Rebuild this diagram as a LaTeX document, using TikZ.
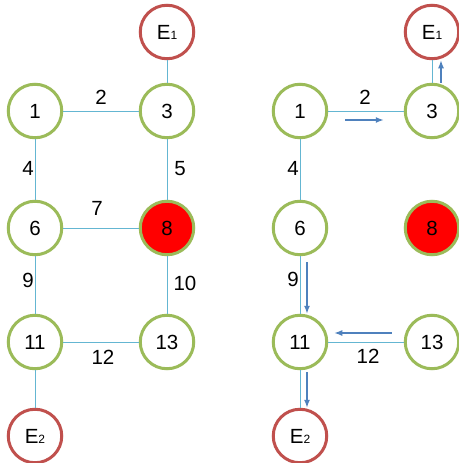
\documentclass[tikz,border=0pt]{standalone}
\usepackage{fontspec}
\setmainfont{Liberation Sans}
\usetikzlibrary{arrows.meta}
\definecolor{ringgreen}{RGB}{155,187,89}
\definecolor{ringred}{RGB}{192,80,77}
\definecolor{linkblue}{RGB}{100,182,210}
\definecolor{flowblue}{RGB}{79,129,189}
\newcommand{\Esub}[1]{E{\fontsize{12}{12}\selectfont #1}}
\tikzset{
  junction/.style={circle, draw=ringgreen, line width=3pt, fill=white,
    minimum size=53.5pt, inner sep=0pt, font=\fontsize{20.5}{24}\selectfont},
  hot/.style={junction, fill=red},
  exitnode/.style={junction, draw=ringred},
  link/.style={draw=linkblue, line width=1pt},
  flow/.style={draw=flowblue, line width=1.4pt, -{Latex[length=8pt,width=6pt]}},
  num/.style={font=\fontsize{20.5}{24}\selectfont, inner sep=0pt}
}
\begin{document}
\begin{tikzpicture}[x=1pt,y=-1pt]
\useasboundingbox (0,0) rectangle (458,463);

% ---- left network ----
\node[exitnode] (LE1) at (167,32) {\Esub{1}};
\node[junction] (L1) at (35,111) {1};
\node[junction] (L3) at (167,111) {3};
\node[junction] (L6) at (35,228) {6};
\node[hot] (L8) at (167,228) {8};
\node[junction] (L11) at (35,342) {11};
\node[junction] (L13) at (167,342) {13};
\node[exitnode] (LE2) at (35,436) {\Esub{2}};

\draw[link] (L1) -- (L3);
\draw[link] (L3) -- (LE1);
\draw[link] (L1) -- (L6);
\draw[link] (L3) -- (L8);
\draw[link] (L6) -- (L8);
\draw[link] (L6) -- (L11);
\draw[link] (L8) -- (L13);
\draw[link] (L11) -- (L13);
\draw[link] (L11) -- (LE2);

\node[num] (l2) at (101,97) {2};
\node[num] (l4) at (28,168) {4};
\node[num] (l5) at (180,169) {5};
\node[num] (l7) at (97,208) {7};
\node[num] (l9) at (28,280) {9};
\node[num] (l10) at (185,283) {10};
\node[num] (l12) at (103,357) {12};

% ---- right network ----
\node[exitnode] (RE1) at (432,32) {\Esub{1}};
\node[junction] (R1) at (300,111) {1};
\node[junction] (R3) at (432,111) {3};
\node[junction] (R6) at (300,228) {6};
\node[hot] (R8) at (432,228) {8};
\node[junction] (R11) at (300,342) {11};
\node[junction] (R13) at (432,342) {13};
\node[exitnode] (RE2) at (300,436) {\Esub{2}};

\draw[link] (R1) -- (R3);
\draw[link] (R3) -- (RE1);
\draw[link] (R1) -- (R6);
\draw[link] (R6) -- (R11);
\draw[link] (R11) -- (R13);
\draw[link] (R11) -- (RE2);

\node[num] (r2) at (365,97) {2};
\node[num] (r4) at (293,168) {4};
\node[num] (r9) at (293,279) {9};
\node[num] (r12) at (368,356) {12};

% flow direction arrows
\draw[flow] ([xshift=17pt,yshift=-9pt]R1.east) -- ([xshift=-20pt,yshift=-9pt]R3.west);
\draw[flow] ([xshift=9pt]R3.north) -- ([xshift=9pt]RE1.south);
\draw[flow] ([xshift=7pt,yshift=-6pt]R6.south) -- ([xshift=7pt]R11.north);
\draw[flow] ([xshift=-12pt,yshift=9pt]R13.west) -- ([xshift=6pt,yshift=9pt]R11.east);
\draw[flow] ([xshift=7pt,yshift=-2pt]R11.south) -- ([xshift=7pt]RE2.north);
\end{tikzpicture}
\end{document}
